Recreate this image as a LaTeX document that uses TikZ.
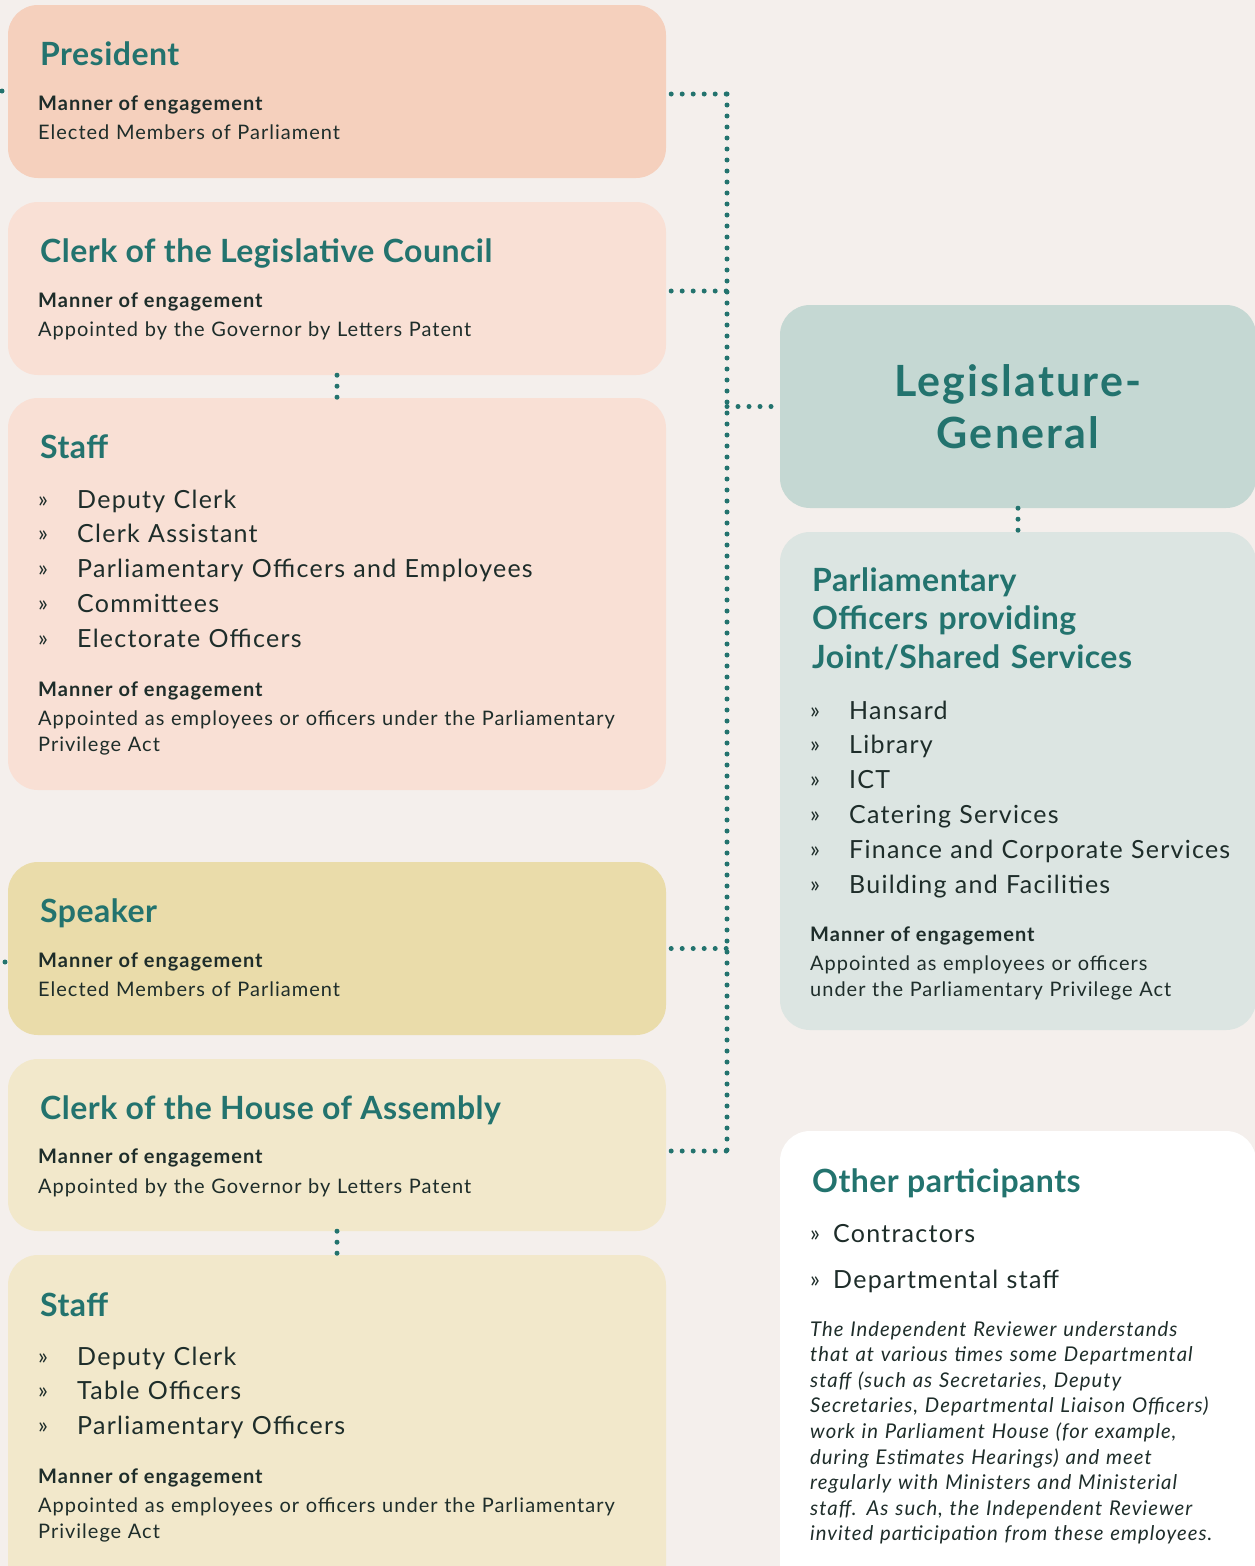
\documentclass[tikz,border=0pt]{standalone}
\usepackage{fontspec}
\setmainfont{Lato}
\newfontfamily\headfont[LetterSpace=1.5]{Lato}
\newfontfamily\widefont[LetterSpace=5]{Lato}

\definecolor{bg}{HTML}{F4EFEC}
\definecolor{presfill}{HTML}{F5D0BD}
\definecolor{lcfill}{HTML}{F9E0D5}
\definecolor{spkfill}{HTML}{EADCAA}
\definecolor{hafill}{HTML}{F2E8CB}
\definecolor{legfill}{HTML}{C5D8D3}
\definecolor{offfill}{HTML}{DCE5E2}
\definecolor{tealdk}{HTML}{23736E}
\definecolor{ink}{HTML}{1E2D2A}

% bullet mark with a fixed gap before the item text
\newcommand{\blt}[1][39pt]{\makebox[#1][l]{\fontsize{23}{24}\selectfont\raisebox{1pt}{»}}}

\tikzset{
  box/.style={rounded corners=30pt, inner sep=0pt},
  ttl/.style={anchor=base west, inner sep=0pt, text=tealdk, font=\headfont\bfseries\fontsize{32}{38}\selectfont},
  moe/.style={anchor=base west, inner sep=0pt, text=ink, font=\widefont\bfseries\fontsize{20}{24}\selectfont},
  txt/.style={anchor=base west, inner sep=0pt, text=ink, text width=620pt, align=left, font=\widefont\fontsize{20}{26}\selectfont},
  itm/.style={anchor=base west, inner sep=0pt, text=ink, text width=620pt, align=left, font=\widefont\fontsize{25}{34.8}\selectfont},
  dotline/.style={tealdk, line width=5pt, line cap=round, dash pattern=on 0pt off 11pt},
}

\begin{document}
\begin{tikzpicture}[x=1pt,y=-1pt]
  \useasboundingbox (0,0) rectangle (1255,1566);
  \clip (0,0) rectangle (1255,1566);
  \fill[bg] (0,0) rectangle (1255,1566);

  % left column
  \node[box, fill=presfill, minimum width=658pt, minimum height=173pt] (pres) at (337,91.5) {};
  \node[box, fill=lcfill, minimum width=658pt, minimum height=173pt] (clerklc) at (337,288.5) {};
  \node[box, fill=lcfill, minimum width=658pt, minimum height=392pt] (stafflc) at (337,594) {};
  \node[box, fill=spkfill, minimum width=658pt, minimum height=173pt] (speaker) at (337,948.5) {};
  \node[box, fill=hafill, minimum width=658pt, minimum height=172pt] (clerkha) at (337,1145) {};
  \node[box, fill=hafill, minimum width=658pt, minimum height=345pt] (staffha) at (337,1427.5) {};

  % right column
  \node[box, fill=legfill, minimum width=476pt, minimum height=203pt, align=center, text=tealdk,
        font=\widefont\bfseries\fontsize{43}{52}\selectfont] (legis) at (1018,406.5) {Legislature-\\General};
  \node[box, fill=offfill, minimum width=476pt, minimum height=498pt] (officers) at (1018,781) {};
  \node[box, fill=white, minimum width=476pt, minimum height=469pt] (other) at (1018,1365.5) {};

  % dotted links
  \coordinate (spine) at (727,0);
  \coordinate (presj) at ([yshift=-2.5pt]pres.east);
  \coordinate (lcj) at ([yshift=-2.5pt]clerklc.east);
  \coordinate (haj) at ([yshift=-6pt]clerkha.east);
  \draw[dotline, shorten <=5pt] (presj) -- (presj -| spine);
  \draw[dotline, shorten <=5pt] (lcj) -- (lcj -| spine);
  \draw[dotline, shorten <=5pt] (speaker.east) -- (speaker.east -| spine);
  \draw[dotline, shorten <=5pt] (haj) -- (haj -| spine);
  \draw[dotline] (presj -| spine) -- (haj -| spine);
  \draw[dotline] (legis.west -| spine) -- (legis.west);
  \draw[dotline] (clerklc.south) -- (stafflc.north);
  \draw[dotline] (legis.south) -- (officers.north);
  \draw[dotline] (clerkha.south) -- (staffha.north);
  \fill[tealdk] (2,91) circle (2.5pt);
  \fill[tealdk] (5,962) circle (2.5pt);

  % President
  \node[ttl] (prest) at (40,65) {President};
  \node[moe] (presm) at (38,110) {Manner of engagement};
  \node[txt] (presb) at (38,139) {Elected Members of Parliament};

  % Clerk of the Legislative Council
  \node[ttl] (lct) at (40,262) {Clerk of the Legislative Council};
  \node[moe] (lcm) at (38,307) {Manner of engagement};
  \node[txt] (lcb) at (38,336) {Appointed by the Governor by Letters Patent};

  % Legislative Council staff
  \node[ttl] (lcst) at (40,458) {Staff};
  \node[itm] (lcsi) at (38,508) {\blt Deputy Clerk\\ \blt Clerk Assistant\\ \blt Parliamentary Officers and Employees\\
    \blt Committees\\ \blt Electorate Officers};
  \node[moe] (lcsm) at (38,696) {Manner of engagement};
  \node[txt] (lcsb) at (38,725) {Appointed as employees or officers under the Parliamentary\\Privilege Act};

  % Speaker
  \node[ttl] (spkt) at (40,922) {Speaker};
  \node[moe] (spkm) at (38,967) {Manner of engagement};
  \node[txt] (spkb) at (38,996) {Elected Members of Parliament};

  % Clerk of the House of Assembly
  \node[ttl] (hat) at (40,1119) {Clerk of the House of Assembly};
  \node[moe] (ham) at (38,1163) {Manner of engagement};
  \node[txt] (hab) at (38,1193) {Appointed by the Governor by Letters Patent};

  % House of Assembly staff
  \node[ttl] (hast) at (40,1316) {Staff};
  \node[itm] (hasi) at (38,1365) {\blt Deputy Clerk\\ \blt Table Officers\\ \blt Parliamentary Officers};
  \node[moe] (hasm) at (38,1483) {Manner of engagement};
  \node[txt] (hasb) at (38,1512) {Appointed as employees or officers under the Parliamentary\\Privilege Act};

  % joint services
  \node[ttl, text width=420pt, align=left, font=\headfont\bfseries\fontsize{32}{38.5}\selectfont] (offt) at (812,591)
    {Parliamentary\\Officers providing\\Joint/Shared Services};
  \node[itm, text width=440pt] (offi) at (810,719) {\blt Hansard\\ \blt Library\\ \blt ICT\\ \blt Catering Services\\
    \blt Finance and Corporate Services\\ \blt Building and Facilities};
  \node[moe] (offm) at (810,941) {Manner of engagement};
  \node[txt, text width=440pt] (offb) at (810,970) {Appointed as employees or officers\\under the Parliamentary Privilege Act};

  % other participants
  \node[ttl] (otht) at (812,1192) {Other participants};
  \node[itm, text width=440pt, font=\widefont\fontsize{25}{46}\selectfont] (othi) at (810,1242)
    {\blt[23pt]Contractors\\ \blt[23pt]Departmental staff};
  \node[txt, text width=440pt, font=\widefont\itshape\fontsize{20.3}{25.6}\selectfont] (othb) at (810,1336)
    {The Independent Reviewer understands\\that at various times some Departmental\\staff (such as Secretaries, Deputy\\
     Secretaries, Departmental Liaison Officers)\\work in Parliament House (for example,\\during Estimates Hearings) and meet\\
     regularly with Ministers and Ministerial\\staff. As such, the Independent Reviewer\\invited participation from these employees.};
\end{tikzpicture}
\end{document}
